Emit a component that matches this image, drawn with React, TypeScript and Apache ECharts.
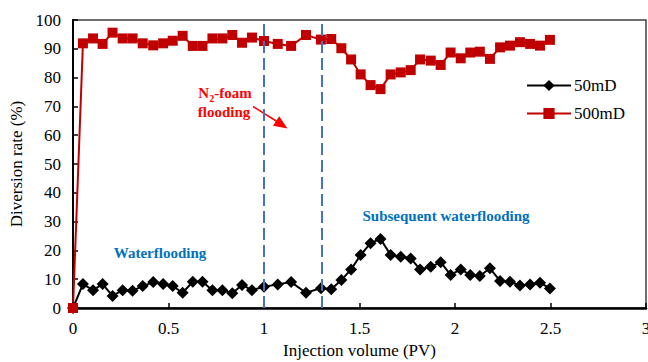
import React, { useEffect, useRef } from "react";
import * as echarts from "echarts";

const pv = [0, 0.052, 0.105, 0.155, 0.207, 0.26, 0.312, 0.365, 0.42, 0.472, 0.522, 0.574, 0.627, 0.678, 0.73, 0.782, 0.834, 0.885, 0.937, 1.0, 1.072, 1.142, 1.22, 1.298, 1.352, 1.405, 1.456, 1.506, 1.558, 1.61, 1.663, 1.716, 1.768, 1.817, 1.873, 1.925, 1.977, 2.03, 2.08, 2.13, 2.183, 2.236, 2.288, 2.34, 2.393, 2.445, 2.497];
const rate50 = [0, 8.3, 6.2, 8.3, 4.2, 6.2, 6.0, 7.6, 9.0, 8.3, 7.6, 5.3, 9.1, 9.1, 6.2, 6.2, 5.1, 8.0, 6.2, 7.4, 8.2, 9.0, 5.3, 6.9, 6.5, 9.7, 13.4, 18.4, 22.5, 24.0, 18.4, 17.8, 17.2, 13.4, 14.3, 15.9, 11.5, 13.4, 11.5, 11.1, 13.8, 9.4, 9.1, 7.8, 8.2, 8.8, 6.8];
const rate500 = [0, 91.9, 93.6, 91.7, 95.6, 93.6, 93.6, 91.9, 91.2, 91.9, 92.8, 94.5, 91.0, 91.0, 93.6, 93.6, 94.8, 92.1, 93.9, 92.7, 91.7, 91.0, 94.8, 93.2, 93.4, 90.2, 86.3, 81.1, 77.4, 76.0, 81.1, 81.8, 82.6, 86.3, 85.9, 84.4, 88.7, 86.7, 88.7, 89.0, 86.5, 90.5, 91.1, 92.3, 91.7, 91.1, 93.1];
const phaseBounds = [1.0, 1.3];
const seriesNames = ["50mD", "500mD"];

const FONT = "Liberation Serif, Times New Roman, serif";

export default function App() {
  const ref = useRef<HTMLDivElement>(null);
  useEffect(() => {
    document.body.style.margin = "0";
    const chart = echarts.init(ref.current!, null, { renderer: "svg" });
    const ax = (n: number) => pv.map((x, i) => [x, n === 0 ? rate50[i] : rate500[i]]);
    chart.setOption({
      animation: false,
      textStyle: { fontFamily: FONT },
      grid: {
        left: 73, right: 2, top: 20, bottom: 54,
        outerBoundsMode: "none", containLabel: false,
        show: true, borderColor: "#404040", borderWidth: 1.5,
      },
      legend: {
        orient: "vertical", left: 521, top: 72,
        itemWidth: 44, itemHeight: 14, itemGap: 11,
        textStyle: { fontFamily: FONT, fontSize: 17, color: "#000", padding: [0, 0, 0, -2] },
        data: seriesNames,
      },
      xAxis: {
        type: "value", min: 0, max: 3, interval: 0.5,
        name: "Injection volume (PV)", nameLocation: "middle", nameGap: 33,
        nameTextStyle: { fontFamily: FONT, fontSize: 17, color: "#000" },
        axisLine: { lineStyle: { color: "#000", width: 2.5 } },
        axisTick: { inside: true, length: 5, lineStyle: { color: "#000", width: 1.5 } },
        axisLabel: { fontFamily: FONT, fontSize: 17, color: "#000", margin: 12 },
        splitLine: { show: false },
      },
      yAxis: {
        type: "value", min: 0, max: 100, interval: 10,
        name: "Diversion rate (%)", nameLocation: "middle", nameGap: 44,
        nameTextStyle: { fontFamily: FONT, fontSize: 17, color: "#000" },
        axisLine: { show: true, lineStyle: { color: "#000", width: 2 } },
        axisTick: { show: true, inside: true, length: 5, lineStyle: { color: "#000", width: 1.5 } },
        axisLabel: { fontFamily: FONT, fontSize: 17, color: "#000", margin: 12 },
        splitLine: { show: false },
      },
      series: [
        {
          name: seriesNames[0], type: "line", data: ax(0),
          symbol: "diamond", symbolSize: 12,
          lineStyle: { color: "#000", width: 2 },
          itemStyle: { color: "#000" },
          markLine: {
            silent: true, symbol: "none", label: { show: false },
            lineStyle: { color: "#4472C4", width: 2, type: [12, 5] },
            data: phaseBounds.map((x) => ({ xAxis: x })),
          },
        },
        {
          name: seriesNames[1], type: "line", data: ax(1),
          symbol: "rect", symbolSize: 10,
          lineStyle: { color: "#C00000", width: 2 },
          itemStyle: { color: "#C00000" },
        },
      ],
      graphic: [
        {
          type: "text", x: 225, y: 93,
          style: {
            text: "{a|N}{s|2}{a|-foam}",
            align: "center", verticalAlign: "middle",
            rich: {
              a: { fontFamily: FONT, fontSize: 15, fontWeight: "bold", fill: "#FF0000", verticalAlign: "bottom" },
              s: { fontFamily: FONT, fontSize: 10, fontWeight: "bold", fill: "#FF0000", verticalAlign: "bottom", padding: [0, 0, -3, 0] },
            },
          },
        },
        {
          type: "text", x: 224, y: 112,
          style: { text: "flooding", align: "center", verticalAlign: "middle", font: `bold 15px ${FONT}`, fill: "#FF0000" },
        },
        {
          type: "line",
          shape: { x1: 253, y1: 106.5, x2: 277, y2: 121.5 },
          style: { stroke: "#FF0000", lineWidth: 1.5 },
        },
        {
          type: "polygon",
          shape: { points: [[287.5, 128.5], [273, 125.8], [279.2, 116.2]] },
          style: { fill: "#FF0000" },
        },
        {
          type: "text", x: 160, y: 253,
          style: { text: "Waterflooding", align: "center", verticalAlign: "middle", font: `bold 15px ${FONT}`, fill: "#0070C0" },
        },
        {
          type: "text", x: 446, y: 216,
          style: { text: "Subsequent waterflooding", align: "center", verticalAlign: "middle", font: `bold 15px ${FONT}`, fill: "#0070C0" },
        },
      ],
    });
    return () => chart.dispose();
  }, []);
  return <div ref={ref} style={{ width: 648, height: 362 }} />;
}
